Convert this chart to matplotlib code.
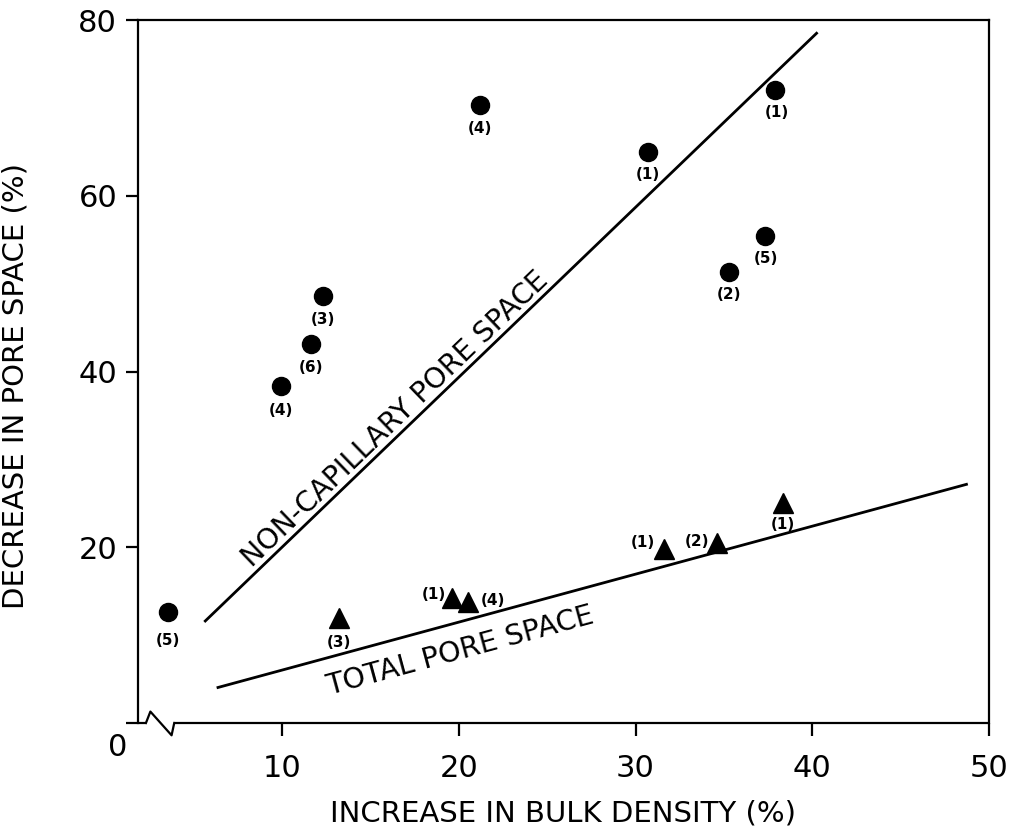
import numpy as np
import matplotlib
matplotlib.use("Agg")
import matplotlib.pyplot as plt

plt.rcParams['font.family'] = ['DejaVu Sans']

# Non-capillary pore space (circles)
noncap_x = [3.55, 9.94, 11.64, 12.3, 21.2, 30.7, 35.3, 37.3, 37.9]
noncap_y = [12.6, 38.4, 43.1, 48.6, 70.3, 65.0, 51.3, 55.4, 72.0]
noncap_ids = ["(5)", "(4)", "(6)", "(3)", "(4)", "(1)", "(2)", "(5)", "(1)"]

# Total pore space (triangles)
total_x = [13.2, 19.6, 20.5, 31.6, 34.6, 38.35]
total_y = [11.9, 14.2, 13.8, 19.8, 20.5, 25.0]
total_ids = ["(3)", "(1)", "(4)", "(1)", "(2)", "(1)"]

# Fitted lines (end points)
noncap_fit_x = [5.6, 40.3]
noncap_fit_y = [11.5, 78.6]
total_fit_x = [6.3, 48.8]
total_fit_y = [4.0, 27.2]

x_ticks = [10, 20, 30, 40, 50]
y_ticks = [0, 20, 40, 60, 80]
y_ticklabels = ["", "20", "40", "60", "80"]

# label offsets (points) for the site numbers
noncap_off = [(0, -20), (0, -18), (0, -17), (0, -17), (0, -17), (0, -16), (0, -16), (1, -16), (1, -16)]
total_off = [(0, -17), (-13, 3), (18, 1), (-15, 5), (-14, 1), (0, -15)]

fig = plt.figure(figsize=(10.16, 8.34), dpi=100)
ax = fig.add_axes([138 / 1016, 1 - 723 / 834, (989 - 138) / 1016, (723 - 20) / 834])
ax.set_xlim(1.85, 50)
ax.set_ylim(0, 80)

for s in ax.spines.values():
    s.set_linewidth(1.6)
ax.spines['bottom'].set_visible(False)

# bottom axis drawn by hand to show the scale break
k = dict(color='black', lw=1.6, clip_on=False, solid_capstyle='butt')
ax.plot([1.85, 2.3], [0, 0], **k)
ax.plot([2.3, 2.55, 3.75, 3.9], [0, 1.3, -1.4, 0], color='black', lw=1.6, clip_on=False)
ax.plot([3.9, 50], [0, 0], **k)

ax.set_xticks(x_ticks)
ax.set_xticklabels([str(v) for v in x_ticks])
ax.set_yticks(y_ticks)
ax.set_yticklabels(y_ticklabels)
ax.tick_params(axis='both', direction='out', length=9, width=1.6, labelsize=22)
ax.tick_params(axis='x', pad=13)
ax.tick_params(axis='y', pad=6)
fig.text(118 / 1016, 1 - 747 / 834, "0", fontsize=22, ha='center', va='center')

ax.set_xlabel("INCREASE IN BULK DENSITY (%)", fontsize=21, labelpad=12)
ax.set_ylabel("DECREASE IN PORE SPACE (%)", fontsize=21)
ax.yaxis.set_label_coords(-0.128, 0.48)

ax.plot(noncap_fit_x, noncap_fit_y, color='black', lw=2.0, solid_capstyle='butt')
ax.plot(total_fit_x, total_fit_y, color='black', lw=2.0, solid_capstyle='butt')

ax.plot(noncap_x, noncap_y, 'o', color='black', markersize=13, clip_on=False)
ax.plot(total_x, total_y, '^', color='black', markersize=14, clip_on=False)

for x, y, t, o in zip(noncap_x, noncap_y, noncap_ids, noncap_off):
    ax.annotate(t, (x, y), xytext=o, textcoords='offset points', ha='center', va='center',
                fontsize=11, fontweight='bold')
for x, y, t, o in zip(total_x, total_y, total_ids, total_off):
    ax.annotate(t, (x, y), xytext=o, textcoords='offset points', ha='center', va='center',
                fontsize=11, fontweight='bold')

def line_angle(xs, ys):
    p = ax.transData.transform(np.column_stack([xs, ys]))
    return np.degrees(np.arctan2(p[1, 1] - p[0, 1], p[1, 0] - p[0, 0]))

ax.text(16.4, 34.6, "NON-CAPILLARY PORE SPACE", fontsize=20.5,
        rotation=line_angle(noncap_fit_x, noncap_fit_y), rotation_mode='anchor',
        ha='center', va='center')
ax.text(20.1, 8.2, "TOTAL PORE SPACE", fontsize=20.5,
        rotation=line_angle(total_fit_x, total_fit_y), rotation_mode='anchor',
        ha='center', va='center')

fig.savefig("out.png", dpi=100, facecolor='white')
